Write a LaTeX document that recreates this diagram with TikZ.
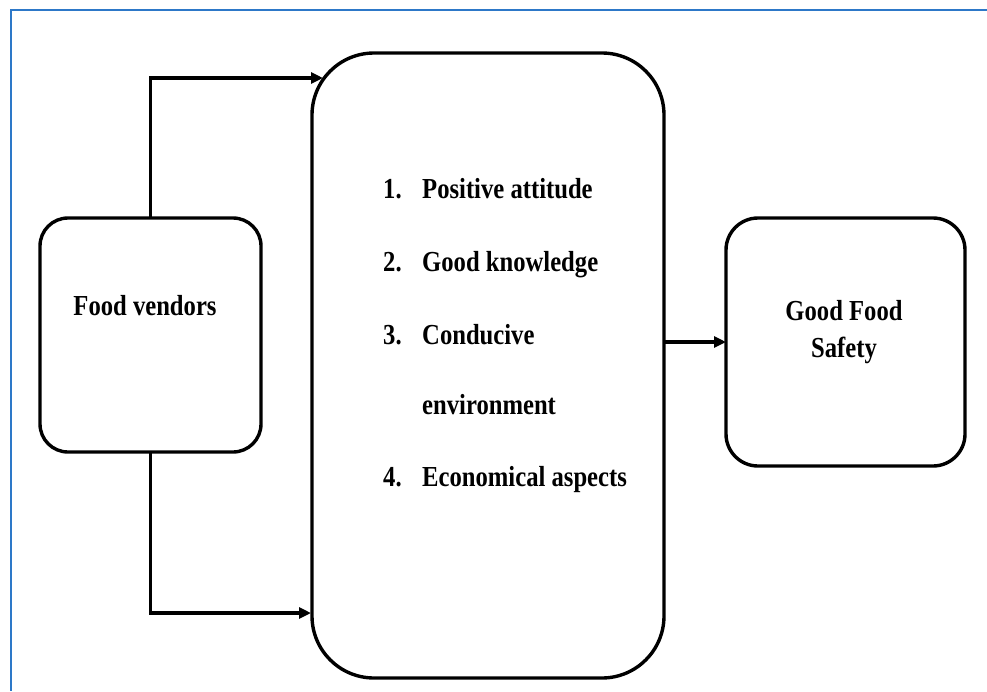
\documentclass[tikz,border=0pt]{standalone}
\usepackage{fontspec}
\setmainfont{Liberation Serif}
\usepackage{graphicx}
\usetikzlibrary{arrows.meta}
\definecolor{frameblue}{RGB}{45,120,200}
\newcommand\sq[1]{\scalebox{0.85}[1]{#1}}
\begin{document}
\begin{tikzpicture}[x=1pt,y=-1pt,
  box/.style={draw,line width=3.4pt,rounded corners=#1,inner sep=0pt,outer sep=0pt},
  lbl/.style={font=\bfseries\fontsize{29}{34}\selectfont,inner sep=0pt},
  conn/.style={line width=3.4pt,-{Triangle[length=12pt,width=11pt]}}]
\useasboundingbox (0,0) rectangle (987,691);
\draw[frameblue,line width=2pt] (987,10) -- (10.5,10) -- (10.5,691);
% boxes
\node[box=28pt,minimum width=221pt,minimum height=234pt] (fv) at (150.5,335) {};
\node[box=62pt,minimum width=352pt,minimum height=625pt] (mid) at (488,365.5) {};
\node[box=32pt,minimum width=239pt,minimum height=248pt] (gfs) at (845.5,342) {};
% texts
\node[lbl,anchor=base] (fvt) at (145,315) {\sq{Food vendors}};
\node[lbl,anchor=base] (gfs1) at (844,320) {\sq{Good Food}};
\node[lbl,anchor=base] (gfs2) at (844,357) {\sq{Safety}};
\node[lbl,anchor=base west] (n1) at (383,198) {\sq{1.}};
\node[lbl,anchor=base west] (t1) at (422,198) {\sq{Positive attitude}};
\node[lbl,anchor=base west] (n2) at (383,271) {\sq{2.}};
\node[lbl,anchor=base west] (t2) at (422,271) {\sq{Good knowledge}};
\node[lbl,anchor=base west] (n3) at (383,344) {\sq{3.}};
\node[lbl,anchor=base west] (t3) at (422,344) {\sq{Conducive}};
\node[lbl,anchor=base west] (t3b) at (422,414) {\sq{environment}};
\node[lbl,anchor=base west] (n4) at (383,486) {\sq{4.}};
\node[lbl,anchor=base west] (t4) at (422,486) {\sq{Economical aspects}};
% connectors
\coordinate (topend) at (323,78);
\coordinate (botend) at (311,613);
\draw[conn] (fv.north) |- (topend);
\draw[conn] (fv.south) |- (botend);
\draw[conn] (gfs.west -| mid.east) -- (gfs.west);
\end{tikzpicture}
\end{document}
